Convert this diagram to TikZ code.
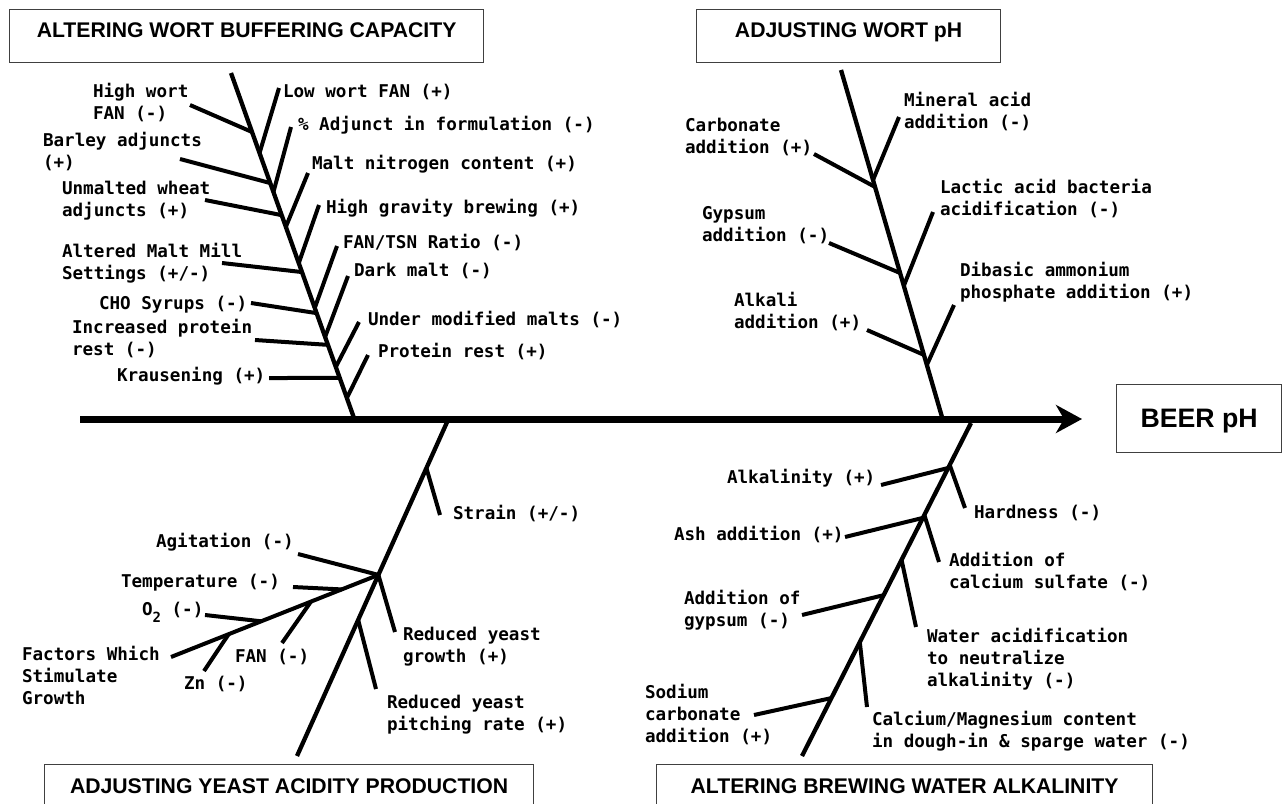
\documentclass[tikz,border=0pt]{standalone}
\usepackage{fontspec}
\setmainfont{Liberation Sans}
\newfontfamily\lblfont{DejaVu Sans Mono Bold}
\usetikzlibrary{arrows.meta,calc}
\begin{document}
\begin{tikzpicture}[x=1pt,y=-1pt,
  bone/.style={line width=4pt},
  spine/.style={line width=4.3pt},
  axis/.style={line width=7pt,-{Stealth[length=26pt,width=28pt,inset=8pt]}},
  lbl/.style={font=\lblfont\fontsize{17.6}{21.8}\selectfont, inner sep=0pt, outer sep=0pt, align=left, anchor=base west},
  title/.style={draw=black!75, line width=1.2pt, font=\bfseries\fontsize{21.2}{25}\selectfont, inner sep=0pt, anchor=north west}]
\useasboundingbox (0,0) rectangle (1282,803);
\fill[white] (0,0) rectangle (1282,803);
\clip (0,0) rectangle (1282,803);

% ---------- title boxes ----------
\node[title, minimum width=474pt, text height=28pt, text depth=25pt] (t-buf) at (9,9) {ALTERING WORT BUFFERING CAPACITY};
\node[title, minimum width=304pt, text height=28pt, text depth=25pt] (t-wph) at (696,9) {ADJUSTING WORT pH};
\node[title, minimum width=489pt, text height=29pt, text depth=30pt] (t-yeast) at (44,764) {ADJUSTING YEAST ACIDITY PRODUCTION};
\node[title, minimum width=496pt, text height=29pt, text depth=30pt] (t-water) at (656,764) {ALTERING BREWING WATER ALKALINITY};
\node[title, font=\bfseries\fontsize{26.7}{30}\selectfont, minimum width=165pt, text height=43pt, text depth=25pt] (beer) at (1116,384) {BEER pH};

% ---------- main axis ----------
\coordinate (axL) at (80,419);
\coordinate (axR) at (1082,419);
\draw[axis] (axL) -- (axR);

% ---------- spines ----------
\coordinate (tlA) at (231,73);  \coordinate (tlB) at (354,418);
\coordinate (trA) at (841,70);  \coordinate (trB) at (942,417);
\coordinate (blA) at (448,420); \coordinate (blB) at (297,756);
\coordinate (brA) at (971,423); \coordinate (brB) at (802,756);
\draw[spine] (tlA) -- (tlB);
\draw[spine] (trA) -- (trB);
\draw[spine] (blA) -- (blB);
\draw[spine] (brA) -- (brB);

% ---------- top-left bones ----------
\draw[bone] (190,105) coordinate (hw) -- ($(tlA)!0.171!(tlB)$);
\draw[bone] (180,159) coordinate (ba) -- ($(tlA)!0.319!(tlB)$);
\draw[bone] (205,200) coordinate (uw) -- ($(tlA)!0.412!(tlB)$);
\draw[bone] (222,263) coordinate (am) -- ($(tlA)!0.577!(tlB)$);
\draw[bone] (251,303) coordinate (cho) -- ($(tlA)!0.696!(tlB)$);
\draw[bone] (255,340) coordinate (ip) -- ($(tlA)!0.788!(tlB)$);
\draw[bone] (269,378) coordinate (kr) -- ($(tlA)!0.884!(tlB)$);
\draw[bone] ($(tlA)!0.232!(tlB)$) -- (279,88) coordinate (lw);
\draw[bone] ($(tlA)!0.345!(tlB)$) -- (291,127) coordinate (pa);
\draw[bone] ($(tlA)!0.446!(tlB)$) -- (308,173) coordinate (mn);
\draw[bone] ($(tlA)!0.551!(tlB)$) -- (319,205) coordinate (hg);
\draw[bone] ($(tlA)!0.681!(tlB)$) -- (337,246) coordinate (ft);
\draw[bone] ($(tlA)!0.765!(tlB)$) -- (348,276) coordinate (dm);
\draw[bone] ($(tlA)!0.852!(tlB)$) -- (359,322) coordinate (um);
\draw[bone] ($(tlA)!0.942!(tlB)$) -- (368,355) coordinate (pr);

% ---------- top-right bones ----------
\draw[bone] (814,154) coordinate (ca) -- ($(trA)!0.337!(trB)$);
\draw[bone] (829,243) coordinate (gy) -- ($(trA)!0.585!(trB)$);
\draw[bone] (867,330) coordinate (al) -- ($(trA)!0.821!(trB)$);
\draw[bone] ($(trA)!0.317!(trB)$) -- (899,117) coordinate (ma);
\draw[bone] ($(trA)!0.622!(trB)$) -- (933,212) coordinate (la);
\draw[bone] ($(trA)!0.850!(trB)$) -- (954,305) coordinate (da);

% ---------- bottom-left bones ----------
\coordinate (J) at ($(blA)!0.461!(blB)$);
\coordinate (F) at (171,657);
\draw[bone] ($(blA)!0.143!(blB)$) -- (440,515) coordinate (st);
\draw[bone] (J) -- (395,632) coordinate (rg);
\draw[bone] ($(blA)!0.595!(blB)$) -- (376,689) coordinate (rp);
\draw[bone] (J) -- (F);
\draw[bone] (298,554) coordinate (ag) -- (J);
\draw[bone] (293,587) coordinate (te) -- ($(J)!0.177!(F)$);
\draw[bone] (205,615) coordinate (ox) -- ($(J)!0.565!(F)$);
\draw[bone] ($(J)!0.325!(F)$) -- (282,643) coordinate (fa);
\draw[bone] ($(J)!0.722!(F)$) -- (204,671) coordinate (zn);

% ---------- bottom-right bones ----------
\draw[bone] (881,485) coordinate (ak) -- ($(brA)!0.135!(brB)$);
\draw[bone] (845,537) coordinate (as) -- ($(brA)!0.285!(brB)$);
\draw[bone] (802,615) coordinate (ag2) -- ($(brA)!0.517!(brB)$);
\draw[bone] (754,715) coordinate (sc) -- ($(brA)!0.826!(brB)$);
\draw[bone] ($(brA)!0.126!(brB)$) -- (965,508) coordinate (hd);
\draw[bone] ($(brA)!0.276!(brB)$) -- (939,562) coordinate (cs);
\draw[bone] ($(brA)!0.411!(brB)$) -- (916,627) coordinate (wa);
\draw[bone] ($(brA)!0.658!(brB)$) -- (867,707) coordinate (cm);

% ---------- labels top-left (anchor = baseline of last line) ----------
\node[lbl] (l-hw) at (93,119) {High wort\\FAN (-)};
\node[lbl] (l-ba) at (43,168) {Barley adjuncts\\(+)};
\node[lbl] (l-uw) at (62,216) {Unmalted wheat\\adjuncts (+)};
\node[lbl] (l-am) at (62,279) {Altered Malt Mill\\Settings (+/-)};
\node[lbl] (l-cho) at (99,309) {CHO Syrups (-)};
\node[lbl] (l-ip) at (72,355) {Increased protein\\rest (-)};
\node[lbl] (l-kr) at (117,381) {Krausening (+)};
\node[lbl] (l-lw) at (283,97) {Low wort FAN (+)};
\node[lbl] (l-pa) at (298,130) {\% Adjunct in formulation (-)};
\node[lbl] (l-mn) at (312,169) {Malt nitrogen content (+)};
\node[lbl] (l-hg) at (326,213) {High gravity brewing (+)};
\node[lbl] (l-ft) at (343,248) {FAN/TSN Ratio (-)};
\node[lbl] (l-dm) at (354,276) {Dark malt (-)};
\node[lbl] (l-um) at (368,325) {Under modified malts (-)};
\node[lbl] (l-pr) at (378,357) {Protein rest (+)};

% ---------- labels top-right ----------
\node[lbl] (l-ma) at (904,128) {Mineral acid\\addition (-)};
\node[lbl] (l-ca) at (685,153) {Carbonate\\addition (+)};
\node[lbl] (l-la) at (940,215) {Lactic acid bacteria\\acidification (-)};
\node[lbl] (l-gy) at (702,241) {Gypsum\\addition (-)};
\node[lbl] (l-da) at (960,298) {Dibasic ammonium\\phosphate addition (+)};
\node[lbl] (l-al) at (734,328) {Alkali\\addition (+)};

% ---------- labels bottom-left ----------
\node[lbl] (l-st) at (453,519) {Strain (+/-)};
\node[lbl] (l-ag) at (156,547) {Agitation (-)};
\node[lbl] (l-te) at (121,587) {Temperature (-)};
\node[lbl] (l-ox) at (142,615) {O\raisebox{-7pt}{\fontsize{14}{14}\selectfont 2} (-)};
\node[lbl] (l-fs) at (22,704) {Factors Which\\Stimulate\\Growth};
\node[lbl] (l-fa) at (235,662) {FAN (-)};
\node[lbl] (l-zn) at (184,689) {Zn (-)};
\node[lbl] (l-rg) at (403,662) {Reduced yeast\\growth (+)};
\node[lbl] (l-rp) at (387,730) {Reduced yeast\\pitching rate (+)};

% ---------- labels bottom-right ----------
\node[lbl] (l-ak) at (727,483) {Alkalinity (+)};
\node[lbl] (l-hd) at (974,518) {Hardness (-)};
\node[lbl] (l-as) at (674,540) {Ash addition (+)};
\node[lbl] (l-cs) at (949,588) {Addition of\\calcium sulfate (-)};
\node[lbl] (l-ag2) at (684,626) {Addition of\\gypsum (-)};
\node[lbl] (l-wa) at (927,686) {Water acidification\\to neutralize\\alkalinity (-)};
\node[lbl] (l-sc) at (645,742) {Sodium\\carbonate\\addition (+)};
\node[lbl] (l-cm) at (872,747) {Calcium/Magnesium content\\in dough-in \& sparge water (-)};
\end{tikzpicture}
\end{document}
